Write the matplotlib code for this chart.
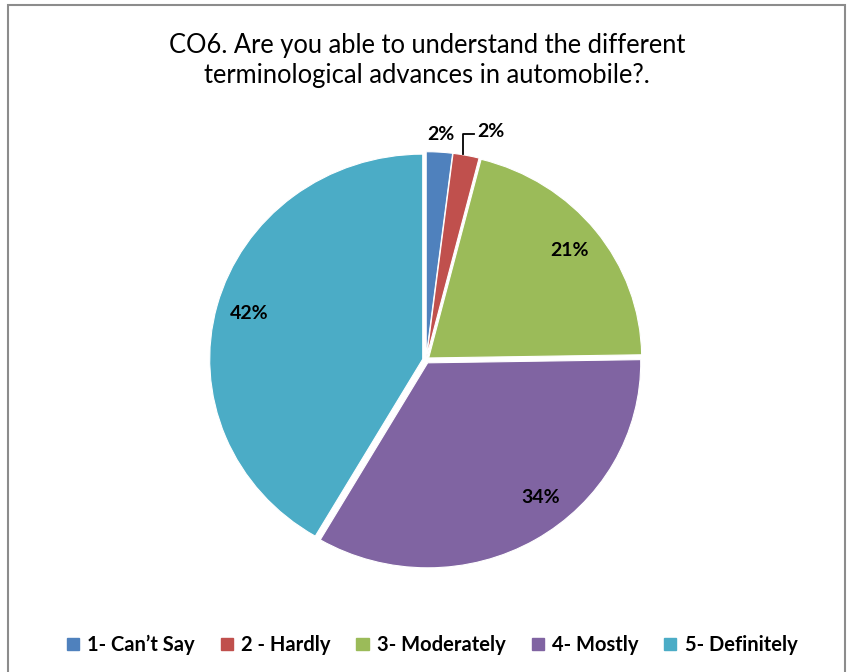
import numpy as np
import matplotlib
matplotlib.use("Agg")
import matplotlib.pyplot as plt
from matplotlib.patches import Rectangle

categories = ["1- Can\u2019t Say", "2 - Hardly", "3- Moderately", "4- Mostly", "5- Definitely"]
values = [2, 2, 21, 34, 42]
colors = ["#4F81BD", "#C0504D", "#9BBB59", "#8064A2", "#4BACC6"]
title = "CO6. Are you able to understand the different\nterminological advances in automobile?."

plt.rcParams["font.family"] = ["Lato", "DejaVu Sans"]

W, H = 852, 672
fig = plt.figure(figsize=(W / 100, H / 100), dpi=100)

# chart border
fig.patches.append(Rectangle((8 / W, -0.05), (845 - 8) / W, 1.05 - 5 / H,
                             transform=fig.transFigure, fill=False,
                             edgecolor="#8c8c8c", linewidth=1.5))

Rx, Ry = 213.0, 205.0
cx, cy = 426, 360
half = 1.25
ax = fig.add_axes([(cx - half * Rx) / W, (H - cy - half * Ry) / H,
                   2 * half * Rx / W, 2 * half * Ry / H])
ax.set_xlim(-half, half)
ax.set_ylim(-half, half)
ax.set_aspect("auto")
ax.axis("off")

explode = [0.016] * len(values)
wedges, _ = ax.pie(values, colors=colors, startangle=90, counterclock=False,
                   explode=explode, radius=1.0,
                   wedgeprops=dict(edgecolor="white", linewidth=0.8))
ax.set_aspect("auto")
ax.set_xlim(-half, half)
ax.set_ylim(-half, half)

label_frac = [0.5, 0.5, 0.5, 0.57, 0.5]
for i, (w, v) in enumerate(zip(wedges, values)):
    mid = np.deg2rad(w.theta1 + (w.theta2 - w.theta1) * label_frac[i])
    txt = f"{v}%"
    if i == 0:
        r = 1.10
        ax.text(r * np.cos(mid), r * np.sin(mid), txt, ha="center", va="center",
                fontsize=14, fontweight="bold", color="black")
    elif i == 1:
        ex, ey = 1.0 * np.cos(mid) - 0.01, 1.0 * np.sin(mid)
        ty = 1.10
        ax.plot([ex, ex, ex + 0.05], [ey + 0.02, ty, ty], color="black", lw=1.3)
        ax.text(ex + 0.065, ty + 0.015, txt, ha="left", va="center",
                fontsize=14, fontweight="bold", color="black")
    else:
        r = 0.86
        ax.text(r * np.cos(mid), r * np.sin(mid), txt, ha="center", va="center",
                fontsize=14, fontweight="bold", color="black")

fig.text(427 / W, 1 - 60 / H, title, ha="center", va="center", fontsize=18.4,
         linespacing=1.25, color="black")

handles = [plt.Rectangle((0, 0), 1, 1, color=c) for c in colors]
fig.legend(handles, categories, loc="center", bbox_to_anchor=(432 / W, 1 - 645 / H),
           ncol=5, frameon=False, handlelength=0.6, handleheight=0.6,
           handletextpad=0.4, columnspacing=1.3,
           prop=dict(family=["Lato", "DejaVu Sans"], weight="bold", size=14.5))

fig.savefig("out.png", dpi=100)
